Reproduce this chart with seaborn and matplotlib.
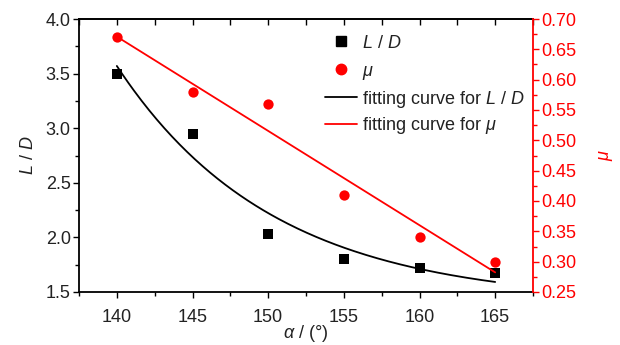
import numpy as np
import pandas as pd
import matplotlib
matplotlib.use("Agg")
import matplotlib.pyplot as plt
from matplotlib.ticker import MultipleLocator, FormatStrFormatter
from matplotlib.lines import Line2D
import seaborn as sns

# ---- data ----
alpha = [140, 145, 150, 155, 160, 165]
ld_values = [3.50, 2.95, 2.03, 1.80, 1.72, 1.67]
mu_values = [0.670, 0.580, 0.560, 0.410, 0.340, 0.300]

# exponential-decay fit of L/D: y0 + A*exp(-k*(x-140))
ld_fit_y0 = 1.40
ld_fit_A = 2.17
ld_fit_k = 0.097

legend_labels = [r"$L$ / $D$", r"$\mu$", r"fitting curve for $L$ / $D$", r"fitting curve for $\mu$"]

sns.set_theme(style="ticks")
plt.rcParams["font.family"] = ["Liberation Sans", "DejaVu Sans"]
plt.rcParams["mathtext.fontset"] = "custom"
plt.rcParams["mathtext.rm"] = "Liberation Sans"
plt.rcParams["mathtext.it"] = "Liberation Sans:italic"
plt.rcParams["mathtext.bf"] = "Liberation Sans:bold"

df = pd.DataFrame({"alpha": alpha, "ld": ld_values, "mu": mu_values})

# fit curves
xf = np.linspace(alpha[0], alpha[-1], 200)
ld_fit = ld_fit_y0 + ld_fit_A * np.exp(-ld_fit_k * (xf - alpha[0]))
p = np.polyfit(alpha, mu_values, 1)
mu_fit = np.polyval(p, xf)
fit_df = pd.DataFrame({"alpha": xf, "ld": ld_fit, "mu": mu_fit})

RED = "#ff0000"
TXT = "#222222"

fig = plt.figure(figsize=(6.2, 3.45), dpi=100)
ax = fig.add_axes([79 / 620, 53 / 345, (533 - 79) / 620, (292 - 19) / 345])
ax2 = ax.twinx()

sns.lineplot(data=fit_df, x="alpha", y="ld", ax=ax, color="black", lw=1.3, zorder=2)
sns.scatterplot(data=df, x="alpha", y="ld", ax=ax, marker="s", color="black",
                s=42, edgecolor="black", linewidth=0, zorder=3)
sns.lineplot(data=fit_df, x="alpha", y="mu", ax=ax2, color=RED, lw=1.3, zorder=2)
sns.scatterplot(data=df, x="alpha", y="mu", ax=ax2, marker="o", color=RED,
                s=55, edgecolor=RED, linewidth=0, zorder=3)

ax.set_xlim(137.5, 167.5)
ax.set_ylim(1.5, 4.0)
ax2.set_ylim(0.25, 0.70)

ax.xaxis.set_major_locator(MultipleLocator(5))
ax.xaxis.set_minor_locator(MultipleLocator(2.5))
ax.yaxis.set_major_locator(MultipleLocator(0.5))
ax.yaxis.set_minor_locator(MultipleLocator(0.25))
ax2.yaxis.set_major_locator(MultipleLocator(0.05))
ax2.yaxis.set_minor_locator(MultipleLocator(0.025))
ax.yaxis.set_major_formatter(FormatStrFormatter("%.1f"))
ax2.yaxis.set_major_formatter(FormatStrFormatter("%.2f"))

fs = 13
ax.tick_params(axis="both", which="major", direction="out", length=4, width=1,
               labelsize=fs, color="black", labelcolor=TXT, pad=2)
ax.tick_params(axis="x", which="major", pad=8)
ax.tick_params(axis="both", which="minor", direction="out", length=3, width=1, color="black")
ax.tick_params(axis="x", top=False)
ax2.tick_params(axis="y", which="major", direction="out", length=4, width=1,
                labelsize=fs, color=RED, labelcolor=RED, pad=2)
ax2.tick_params(axis="y", which="minor", direction="out", length=3, width=1, color=RED)

# top ticks pointing inward
sec = ax.secondary_xaxis("top")
sec.xaxis.set_major_locator(MultipleLocator(5))
sec.xaxis.set_minor_locator(MultipleLocator(2.5))
sec.tick_params(which="both", direction="in", length=4, width=1, labeltop=False, color="black")
sec.spines["top"].set_linewidth(1.3)

for s in ["left", "bottom", "top"]:
    ax.spines[s].set_linewidth(1.3)
    ax.spines[s].set_color("black")
    ax2.spines[s].set_visible(False)
ax.spines["right"].set_visible(False)
ax2.spines["right"].set_color(RED)
ax2.spines["right"].set_linewidth(1.3)

ax.set_xlabel(r"$\alpha$ / (°)", fontsize=fs, color=TXT, labelpad=-2)
ax.set_ylabel(r"$L$ / $D$", fontsize=fs, color=TXT, labelpad=6)
ax2.set_ylabel(r"$\mu$", fontsize=fs, color=RED, labelpad=15)

handles = [
    Line2D([], [], ls="none", marker="s", color="black", ms=6.5),
    Line2D([], [], ls="none", marker="o", color=RED, ms=7.5),
    Line2D([], [], color="black", lw=1.3),
    Line2D([], [], color=RED, lw=1.3),
]
# one legend per row so that rows are evenly spaced as in the reference
row_y = [43, 72, 99, 126]
for h, lab, yy in zip(handles, legend_labels, row_y):
    leg = fig.legend([h], [lab], loc="center left",
                     bbox_to_anchor=(325 / 620, (345 - yy) / 345),
                     frameon=False, fontsize=fs, handlelength=1.75, handletextpad=0.3,
                     borderpad=0, borderaxespad=0)
    for t in leg.get_texts():
        t.set_color(TXT)

fig.savefig("out.png", dpi=100)
